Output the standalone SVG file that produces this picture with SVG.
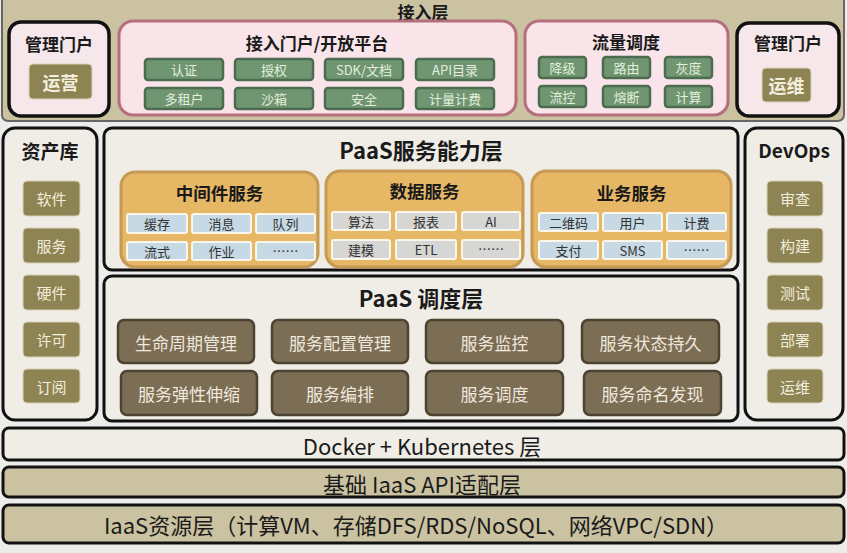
<svg xmlns="http://www.w3.org/2000/svg" width="847" height="553" viewBox="0 0 847 553">
<style>
text{font-family:"Noto Sans CJK SC","Noto Sans",sans-serif;text-anchor:middle;dominant-baseline:central}
.ttl{font-weight:bold;fill:#1a1a1a}
.panel{fill:#f0ede6;stroke:#111;stroke-width:3}
.olive{fill:#8e8352;stroke:#d9d2b8;stroke-width:1}
.olt{fill:#f2eedd;font-size:15px}
.grn{fill:#6f9671;stroke:#4d6b50;stroke-width:2.5}
.grt{fill:#e3eedc;font-size:13px}
.pink{fill:#f8e4e9;stroke:#b56f7c;stroke-width:3}
.gold{fill:#e6b866;stroke:#c59a55;stroke-width:3}
.blue{fill:#c6d9e4;stroke:#fbf6ea;stroke-width:2}
.gray{fill:#d6d6d4;stroke:#fbf6ea;stroke-width:2}
.cellt{fill:#333;font-size:13px}
.brown{fill:#7c6d55;stroke:#4c4333;stroke-width:2.5}
.brt{fill:#efe8dc;font-size:17px}
.tan{fill:#cbc2a1;stroke:#111;stroke-width:3}
.big{font-size:22px;fill:#1a1a1a}
</style>
<rect width="847" height="553" fill="#ececea"/>

<g id="access-layer">
<rect x="2" y="-10" width="842" height="131" rx="6" fill="#cbc2a1" stroke="#666" stroke-width="2"/>
<text class="ttl" x="423" y="11" font-size="17">接入层</text>
</g>

<g id="mgmt-left">
<rect x="9" y="22" width="100" height="94" rx="12" fill="#f6e7ea" stroke="#111" stroke-width="3.5"/>
<text class="ttl" x="59" y="43" font-size="17">管理门户</text>
<rect x="29" y="64" width="63" height="35" rx="4" class="olive"/>
<text x="60.5" y="82" fill="#f2eedd" font-size="18" font-weight="bold">运营</text>
</g>

<g id="open-platform">
<rect x="119" y="21" width="397" height="94" rx="14" class="pink"/>
<text class="ttl" x="317" y="42" font-size="17">接入门户/开放平台</text>
<rect x="145" y="59" width="78" height="21" rx="3" class="grn"/><text class="grt" x="184" y="69.5">认证</text>
<rect x="235" y="59" width="78" height="21" rx="3" class="grn"/><text class="grt" x="274" y="69.5">授权</text>
<rect x="325" y="59" width="78" height="21" rx="3" class="grn"/><text class="grt" x="364" y="69.5">SDK/文档</text>
<rect x="416" y="59" width="78" height="21" rx="3" class="grn"/><text class="grt" x="455" y="69.5">API目录</text>
<rect x="145" y="88" width="78" height="21" rx="3" class="grn"/><text class="grt" x="184" y="98.5">多租户</text>
<rect x="235" y="88" width="78" height="21" rx="3" class="grn"/><text class="grt" x="274" y="98.5">沙箱</text>
<rect x="325" y="88" width="78" height="21" rx="3" class="grn"/><text class="grt" x="364" y="98.5">安全</text>
<rect x="416" y="88" width="78" height="21" rx="3" class="grn"/><text class="grt" x="455" y="98.5">计量计费</text>
</g>

<g id="traffic">
<rect x="525" y="21" width="203" height="94" rx="14" class="pink"/>
<text class="ttl" x="626" y="41" font-size="17">流量调度</text>
<rect x="539" y="57" width="47" height="21" rx="3" class="grn"/><text class="grt" x="562.5" y="67.5">降级</text>
<rect x="603" y="57" width="47" height="21" rx="3" class="grn"/><text class="grt" x="626.5" y="67.5">路由</text>
<rect x="665" y="57" width="47" height="21" rx="3" class="grn"/><text class="grt" x="688.5" y="67.5">灰度</text>
<rect x="539" y="86" width="47" height="21" rx="3" class="grn"/><text class="grt" x="562.5" y="96.5">流控</text>
<rect x="603" y="86" width="47" height="21" rx="3" class="grn"/><text class="grt" x="626.5" y="96.5">熔断</text>
<rect x="665" y="86" width="47" height="21" rx="3" class="grn"/><text class="grt" x="688.5" y="96.5">计算</text>
</g>

<g id="mgmt-right">
<rect x="737" y="23" width="102" height="93" rx="12" fill="#f6e7ea" stroke="#111" stroke-width="3.5"/>
<text class="ttl" x="788" y="42" font-size="17">管理门户</text>
<rect x="762" y="68" width="49" height="34" rx="4" class="olive"/>
<text x="786.5" y="85" fill="#f2eedd" font-size="18" font-weight="bold">运维</text>
</g>

<g id="assets">
<rect x="3" y="128" width="94" height="292" rx="12" class="panel"/>
<text class="ttl" x="50" y="150" font-size="19">资产库</text>
<rect x="23" y="181" width="57" height="35" rx="4" class="olive"/><text class="olt" x="51.5" y="198.5">软件</text>
<rect x="23" y="228" width="57" height="35" rx="4" class="olive"/><text class="olt" x="51.5" y="245.5">服务</text>
<rect x="23" y="275" width="57" height="35" rx="4" class="olive"/><text class="olt" x="51.5" y="292.5">硬件</text>
<rect x="23" y="322" width="57" height="35" rx="4" class="olive"/><text class="olt" x="51.5" y="339.5">许可</text>
<rect x="23" y="369" width="57" height="34" rx="4" class="olive"/><text class="olt" x="51.5" y="386">订阅</text>
</g>

<g id="paas-capability">
<rect x="104" y="128" width="634" height="142" rx="8" class="panel"/>
<text class="ttl" x="421" y="149" font-size="22">PaaS服务能力层</text>
</g>

<g id="middleware">
<rect x="121" y="172" width="197" height="95" rx="14" class="gold"/>
<text class="ttl" x="219.5" y="192" font-size="17.5">中间件服务</text>
<rect x="127" y="214" width="60" height="19" rx="2" class="blue"/><text class="cellt" x="157" y="223.5">缓存</text>
<rect x="192" y="214" width="59" height="19" rx="2" class="blue"/><text class="cellt" x="221.5" y="223.5">消息</text>
<rect x="256" y="214" width="59" height="19" rx="2" class="blue"/><text class="cellt" x="285.5" y="223.5">队列</text>
<rect x="127" y="242" width="60" height="18" rx="2" class="blue"/><text class="cellt" x="157" y="251">流式</text>
<rect x="192" y="242" width="59" height="18" rx="2" class="blue"/><text class="cellt" x="221.5" y="251">作业</text>
<rect x="256" y="242" width="59" height="18" rx="2" class="blue"/><text class="cellt" x="285.5" y="250">……</text>
</g>

<g id="data-service">
<rect x="326" y="171" width="197" height="96" rx="14" class="gold"/>
<text class="ttl" x="424.5" y="190" font-size="17.5">数据服务</text>
<rect x="332" y="212" width="58" height="18" rx="2" class="gray"/><text class="cellt" x="361" y="221">算法</text>
<rect x="396" y="212" width="60" height="18" rx="2" class="gray"/><text class="cellt" x="426" y="221">报表</text>
<rect x="462" y="212" width="58" height="18" rx="2" class="gray"/><text class="cellt" x="491" y="221">AI</text>
<rect x="332" y="240" width="58" height="19" rx="2" class="gray"/><text class="cellt" x="361" y="249.5">建模</text>
<rect x="396" y="240" width="60" height="19" rx="2" class="gray"/><text class="cellt" x="426" y="249.5">ETL</text>
<rect x="462" y="240" width="58" height="19" rx="2" class="gray"/><text class="cellt" x="491" y="248.5">……</text>
</g>

<g id="biz-service">
<rect x="532" y="171" width="199" height="96" rx="14" class="gold"/>
<text class="ttl" x="631.5" y="192" font-size="17.5">业务服务</text>
<rect x="539" y="213" width="59" height="18" rx="2" class="blue"/><text class="cellt" x="568.5" y="222">二维码</text>
<rect x="603" y="213" width="59" height="18" rx="2" class="blue"/><text class="cellt" x="632.5" y="222">用户</text>
<rect x="667" y="213" width="59" height="18" rx="2" class="blue"/><text class="cellt" x="696.5" y="222">计费</text>
<rect x="539" y="241" width="59" height="18" rx="2" class="blue"/><text class="cellt" x="568.5" y="250">支付</text>
<rect x="603" y="241" width="59" height="18" rx="2" class="blue"/><text class="cellt" x="632.5" y="250">SMS</text>
<rect x="667" y="241" width="59" height="18" rx="2" class="blue"/><text class="cellt" x="696.5" y="249">……</text>
</g>

<g id="devops">
<rect x="745" y="128" width="98" height="292" rx="12" class="panel"/>
<text class="ttl" x="794" y="149" font-size="19">DevOps</text>
<rect x="767" y="181" width="56" height="35" rx="4" class="olive"/><text class="olt" x="795" y="198.5">审查</text>
<rect x="767" y="228" width="56" height="35" rx="4" class="olive"/><text class="olt" x="795" y="245.5">构建</text>
<rect x="767" y="275" width="56" height="35" rx="4" class="olive"/><text class="olt" x="795" y="292.5">测试</text>
<rect x="767" y="322" width="56" height="35" rx="4" class="olive"/><text class="olt" x="795" y="339.5">部署</text>
<rect x="767" y="369" width="56" height="34" rx="4" class="olive"/><text class="olt" x="795" y="386">运维</text>
</g>

<g id="paas-scheduling">
<rect x="104" y="276" width="634" height="145" rx="8" class="panel"/>
<text class="ttl" x="421" y="297" font-size="22">PaaS 调度层</text>
<rect x="118" y="320" width="136" height="43" rx="6" class="brown"/><text class="brt" x="186" y="342">生命周期管理</text>
<rect x="272" y="320" width="136" height="43" rx="6" class="brown"/><text class="brt" x="340" y="342">服务配置管理</text>
<rect x="426" y="320" width="137" height="43" rx="6" class="brown"/><text class="brt" x="494.5" y="342">服务监控</text>
<rect x="582" y="320" width="137" height="43" rx="6" class="brown"/><text class="brt" x="650.5" y="342">服务状态持久</text>
<rect x="121" y="371" width="136" height="44" rx="6" class="brown"/><text class="brt" x="189" y="393">服务弹性伸缩</text>
<rect x="272" y="371" width="136" height="44" rx="6" class="brown"/><text class="brt" x="340" y="393">服务编排</text>
<rect x="426" y="371" width="137" height="44" rx="6" class="brown"/><text class="brt" x="494.5" y="393">服务调度</text>
<rect x="584" y="371" width="137" height="44" rx="6" class="brown"/><text class="brt" x="652.5" y="393">服务命名发现</text>
</g>

<g id="docker-k8s">
<rect x="3" y="428" width="841" height="32" rx="6" class="panel"/>
<text class="big" x="422" y="444.5">Docker + Kubernetes 层</text>
</g>

<g id="iaas-api">
<rect x="3" y="467" width="841" height="30" rx="6" class="tan"/>
<text class="big" x="422" y="482.5">基础 IaaS API适配层</text>
</g>

<g id="iaas-resource">
<rect x="3" y="505" width="841" height="38" rx="6" class="tan"/>
<text class="big" x="416" y="523.5">IaaS资源层（计算VM、存储DFS/RDS/NoSQL、网络VPC/SDN）</text>
</g>

<g id="connectors"></g>
</svg>
